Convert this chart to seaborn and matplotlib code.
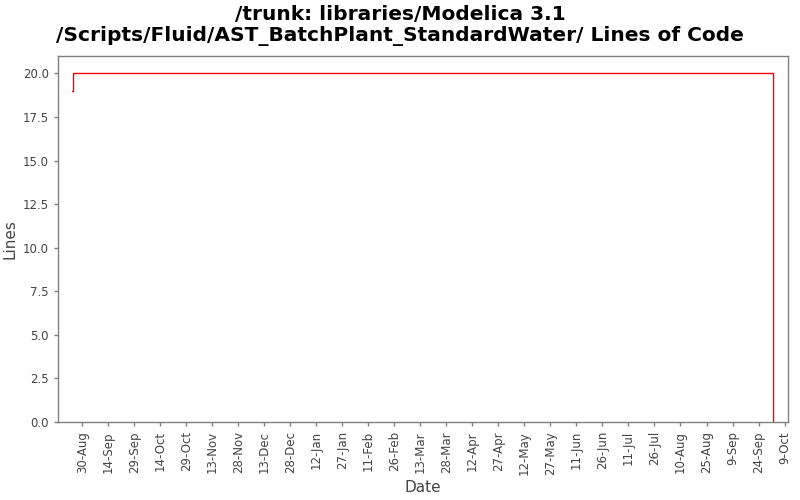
import pandas as pd
import seaborn as sns
import matplotlib.pyplot as plt
import matplotlib.dates as mdates

# data
dates = ['2009-08-24 00:00', '2009-08-24 12:00', '2010-10-02 00:00', '2010-10-02 12:00']
lines = [19, 20, 20, 0]

df = pd.DataFrame({'Date': pd.to_datetime(dates), 'Lines': lines})

sns.set_style('white')
plt.rcParams['font.family'] = ['DejaVu Sans']

fig = plt.figure(figsize=(8, 5), dpi=100)
ax = fig.add_axes([0.0725, 0.156, 0.9125, 0.732])

sns.lineplot(data=df, x='Date', y='Lines', color='red', linewidth=1,
             drawstyle='steps-post', estimator=None, sort=False, ax=ax)

ax.set_xlim(pd.Timestamp('2009-08-16'), pd.Timestamp('2010-10-11'))
ax.set_ylim(0, 21)
ax.set_yticks([0, 2.5, 5, 7.5, 10, 12.5, 15, 17.5, 20])
ax.yaxis.set_major_formatter(plt.FormatStrFormatter('%.1f'))

ticks = pd.date_range('2009-08-30', '2010-10-09', freq='15D')
ax.set_xticks(ticks)
ax.xaxis.set_major_formatter(mdates.DateFormatter('%-d-%b'))
plt.setp(ax.get_xticklabels(), rotation=90)

for s in ax.spines.values():
    s.set_color('#808080')
    s.set_linewidth(1)
ax.tick_params(axis='both', colors='#808080', labelcolor='#444444', labelsize=8.5,
               length=3, width=1, direction='out', bottom=True, left=True)

ax.set_xlabel('Date', fontsize=11, color='#444444')
ax.set_ylabel('Lines', fontsize=11, color='#444444')
fig.text(0.5, 0.99, '/trunk: libraries/Modelica 3.1\n/Scripts/Fluid/AST_BatchPlant_StandardWater/ Lines of Code',
         ha='center', va='top', fontsize=14.5, fontweight='bold', linespacing=1.15, color='black')

fig.savefig('out.png', dpi=100)
